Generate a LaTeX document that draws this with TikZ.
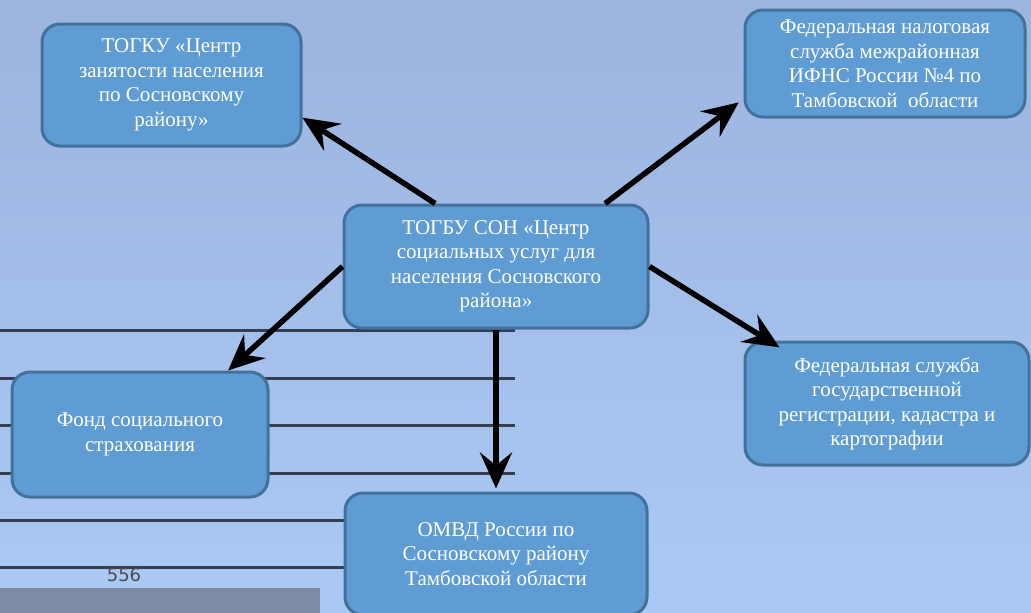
\documentclass[tikz,border=0pt]{standalone}
\usepackage{fontspec}
\setmainfont{Liberation Serif}
\newfontfamily\numfont{DejaVu Sans}
\usetikzlibrary{arrows.meta,calc}
\definecolor{bgtop}{RGB}{157,180,222}
\definecolor{bgbot}{RGB}{170,201,245}
\definecolor{boxfill}{RGB}{94,156,211}
\definecolor{boxline}{RGB}{66,114,156}
\definecolor{hl}{RGB}{52,62,80}
\definecolor{grayrect}{RGB}{125,140,165}
\begin{document}
\begin{tikzpicture}[x=1pt,y=-1pt,
  box/.style={draw=boxline,line width=3pt,fill=boxfill,rounded corners=18pt,
    text=white,align=center,font=\fontsize{21}{24.5}\selectfont,inner sep=0pt},
  arr/.style={line width=5.5pt,-{Stealth[length=36pt,width=32pt,inset=13pt]}},
  hline/.style={draw=hl,line width=3pt}]
\useasboundingbox (0,0) rectangle (1031,613);
\begin{scope}
\clip (0,0) rectangle (1031,613);
\shade[top color=bgtop,bottom color=bgbot] (0,0) rectangle (1031,613);
% background lines and marks
\foreach \yy in {330,378,425,473,520,567}
  \draw[hline] (0,\yy) -- (515,\yy);
\fill[grayrect] (0,588) rectangle (320,613);
\node[font=\numfont\fontsize{18}{18}\selectfont,text=black!70] (num) at (124,575) {556};
% boxes
\node[box,minimum width=259pt,minimum height=122pt] (a) at (171.5,85)
  {ТОГКУ «Центр\\занятости населения\\по Сосновскому\\району»};
\node[box,minimum width=280pt,minimum height=107pt] (f) at (885,63.5)
  {Федеральная налоговая\\служба межрайонная\\ИФНС России №4 по\\Тамбовской\ \ области};
\node[box,minimum width=304pt,minimum height=123pt] (c) at (496,266.5)
  {ТОГБУ СОН «Центр\\социальных услуг для\\населения Сосновского\\района»};
\node[box,minimum width=256pt,minimum height=125pt] (d) at (140,434.5)
  {Фонд социального\\страхования};
\node[box,minimum width=284pt,minimum height=123pt] (e) at (887,403.5)
  {Федеральная служба\\государственной\\регистрации, кадастра и\\картографии};
\node[box,minimum width=302pt,minimum height=122pt] (o) at (496,554)
  {ОМВД России по\\Сосновскому району\\Тамбовской области};
% arrows
\draw[arr] (c.134) -- (a.-14);
\draw[arr,shorten >=6pt] (c.30) -- (f.194);
\draw[arr] (c.west) -- (d.36);
\draw[arr,shorten >=-13pt] (c.east) -- (e.152);
\draw[arr,shorten >=3pt] (c.south) -- (o.north);
\end{scope}
\end{tikzpicture}
\end{document}
